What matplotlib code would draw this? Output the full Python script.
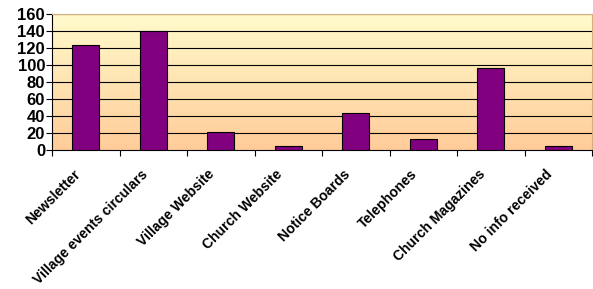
import numpy as np
import matplotlib.pyplot as plt
import matplotlib.transforms as mtransforms
from matplotlib.colors import LinearSegmentedColormap

categories = ["Newsletter", "Village events circulars", "Village Website",
              "Church Website", "Notice Boards", "Telephones",
              "Church Magazines", "No info received"]
values = [124, 140, 21, 5, 44, 13, 96, 5]
yticks = [0, 20, 40, 60, 80, 100, 120, 140, 160]

plt.rcParams["font.family"] = ["Liberation Sans", "DejaVu Sans"]

fig = plt.figure(figsize=(5.93, 2.89), dpi=100)
ax = fig.add_axes([52 / 593, 139 / 289, 540 / 593, 136 / 289])

# gradient background, light yellow at top to peach at bottom
cmap = LinearSegmentedColormap.from_list("bg", ["#FFCC99", "#FFFBCC"])
grad = np.linspace(0, 1, 256).reshape(-1, 1)
ax.imshow(grad, cmap=cmap, aspect="auto", origin="lower",
          extent=[0, 1, 0, 1], transform=ax.transAxes, zorder=0)

x = np.arange(len(categories))
ax.bar(x, values, width=0.4, color="#800080", edgecolor="black",
       linewidth=0.8, zorder=3)

ax.set_xlim(-0.5, len(categories) - 0.5)
ax.set_ylim(0, 160)
ax.set_yticks(yticks)
ax.set_yticklabels([str(v) for v in yticks], fontsize=12, fontweight="bold")
for v in yticks[1:]:
    ax.axhline(v, color="black", linewidth=0.8, zorder=1)

# category ticks sit between the bars
ax.set_xticks(np.arange(len(categories) + 1) - 0.5, minor=False)
ax.set_xticklabels([])
ax.set_xticks(x, minor=True)
ax.set_xticklabels(categories, minor=True, rotation=45, ha="right",
                   va="center", rotation_mode="anchor", fontsize=10.1,
                   fontweight="bold")
ax.tick_params(axis="x", which="minor", length=0, pad=0)
ax.tick_params(axis="x", which="major", length=4, direction="out")
ax.tick_params(axis="y", length=4, direction="out", pad=1)

offset = mtransforms.ScaledTranslation(-0.08, -0.22, fig.dpi_scale_trans)
for lbl in ax.get_xticklabels(minor=True):
    lbl.set_transform(lbl.get_transform() + offset)

for side in ["top", "right"]:
    ax.spines[side].set_color("#D8B080")
ax.spines["left"].set_color("black")
ax.spines["bottom"].set_color("black")

fig.savefig("out.png", dpi=100)
